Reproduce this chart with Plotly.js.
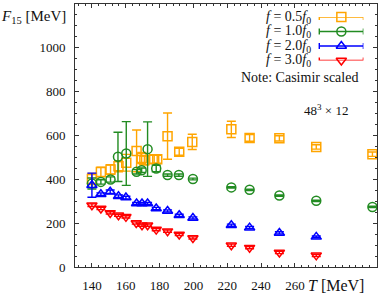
<!DOCTYPE html>
<html>
<head>
<meta charset="utf-8">
<script src="https://cdn.plot.ly/plotly-3.0.1.min.js"></script>
<style>html,body{margin:0;padding:0;background:#fff;}#chart{width:383px;height:306px;}</style>
</head>
<body>
<div id="chart"></div>
<script>
// ---- data ----
const seriesNames = [
  "<i>f</i> = 0.5<i>f</i><sub>0</sub>",
  "<i>f</i> = 1.0<i>f</i><sub>0</sub>",
  "<i>f</i> = 2.0<i>f</i><sub>0</sub>",
  "<i>f</i> = 3.0<i>f</i><sub>0</sub>"
];

const T_half = [140, 145.3, 151, 155.7, 160.3, 166.4, 169.4, 171, 176.8, 178.6, 184.7, 191.6, 199.3, 222.4, 233.2, 250.8, 272.6, 305.8];
const F_half = [400, 432, 443, 458, 474, 528, 496, 485, 490, 490, 595, 524, 569, 626, 587, 585, 546, 513];
const E_half = [25, 22, 22, 25, 38, 95, 25, 20, 18, 18, 105, 16, 35, 37, 15, 12, 10, 10];

const T_one = [140, 145.3, 151, 155.4, 160.3, 166.4, 169.4, 172.9, 178, 184.7, 191.4, 199.7, 222.4, 233.2, 250.8, 272.6, 305.8];
const F_one = [380, 387, 398, 501, 516, 433, 440, 536, 448, 418, 418, 400, 362, 351, 325, 301, 273];
const E_one = [25, 10, 12, 112, 145, 10, 10, 124, 15, 5, 5, 4, 3, 3, 3, 3, 3];

const T_two = [140, 145.3, 150.8, 155.7, 160.1, 166.4, 169.6, 172.9, 178, 184.7, 191.6, 199.7, 222.4, 233.2, 250.8, 272.6];
const F_two = [372, 331, 342, 322, 316, 289, 289, 289, 266, 255, 235, 223, 190, 179, 155, 137];
const E_two = [55, 6, 8, 6, 6, 5, 5, 5, 5, 5, 5, 5, 5, 5, 5, 4];

const T_three = [140, 145.3, 150.8, 155.7, 160.1, 166.2, 169.6, 172.9, 178, 184.7, 191.6, 199.7, 222.4, 233.2, 250.8, 272.6];
const F_three = [281, 266, 246, 235, 228, 200, 190, 190, 170, 163, 148, 132, 99, 88, 66, 53];
const E_three = [6, 5, 5, 5, 5, 5, 5, 5, 5, 5, 5, 5, 5, 5, 5, 5];

const xTickVals = [140, 160, 180, 200, 220, 240, 260];
const xTickText = ["140", "160", "180", "200", "220", "240", "260"];
const yTickVals = [0, 200, 400, 600, 800, 1000];
const yTickText = ["0", "200", "400", "600", "800", "1000"];

// ---- styling ----
const colors = ["#FFA500", "#228B22", "#0000FF", "#FF0000"];
const symbols = ["square-open", "circle-open", "triangle-up-open", "triangle-down-open"];
const Ts = [T_half, T_one, T_two, T_three];
const Fs = [F_half, F_one, F_two, F_three];
const Es = [E_half, E_one, E_two, E_three];
const serif = "Liberation Serif, Times New Roman, serif";

const traces = Ts.map((t, i) => ({
  type: "scatter",
  mode: "markers",
  x: t,
  y: Fs[i],
  name: seriesNames[i],
  showlegend: false,
  marker: {symbol: symbols[i], size: 9, color: colors[i], line: {color: colors[i], width: 1.5}},
  error_y: {type: "data", array: Es[i], visible: true, color: colors[i], thickness: 1.4, width: 4.5}
}));

// key (legend) drawn on a small hidden axis pair: one row per series index
const keyTraces = seriesNames.map((nm, i) => ({
  type: "scatter",
  mode: "markers",
  xaxis: "x2", yaxis: "y2",
  x: [0], y: [i],
  name: nm,
  showlegend: false,
  cliponaxis: false,
  marker: {symbol: symbols[i], size: 9, color: colors[i], line: {color: colors[i], width: 1.5}},
  error_x: {type: "data", array: [1], visible: true, color: colors[i], thickness: 1.4, width: 3}
}));

const keyLabels = seriesNames.map((nm, i) => ({
  xref: "x2", yref: "y2", x: -1.3, y: i, xanchor: "right", yanchor: "middle",
  text: nm, showarrow: false, font: {family: serif, size: 14, color: "#111"}
}));

const layout = {
  width: 383, height: 306,
  margin: {l: 75, r: 6, t: 4, b: 39},
  paper_bgcolor: "#fff", plot_bgcolor: "#fff",
  font: {family: serif, size: 13, color: "#111"},
  showlegend: false,
  xaxis: {
    range: [130, 308.5],
    showgrid: false, zeroline: false,
    showline: true, linecolor: "#333", linewidth: 1, mirror: "ticks",
    ticks: "inside", ticklen: 4, tickcolor: "#333",
    tickmode: "array", tickvals: xTickVals, ticktext: xTickText,
    ticklabelstandoff: 6,
    tickfont: {family: serif, size: 13, color: "#111"},
    minor: {tickmode: "linear", tick0: 140, dtick: 4, ticks: "inside", ticklen: 2, tickcolor: "#333"}
  },
  yaxis: {
    range: [0, 1196],
    showgrid: false, zeroline: false,
    showline: true, linecolor: "#333", linewidth: 1, mirror: "ticks",
    ticks: "inside", ticklen: 4, tickcolor: "#333",
    tickmode: "array", tickvals: yTickVals, ticktext: yTickText,
    ticklabelstandoff: 6,
    tickfont: {family: serif, size: 13, color: "#111"},
    minor: {tickmode: "linear", tick0: 0, dtick: 50, ticks: "inside", ticklen: 2, tickcolor: "#333"}
  },
  xaxis2: {domain: [0.692, 0.955], range: [-2.6, 1], anchor: "y2", visible: false, fixedrange: true},
  yaxis2: {domain: [0.785, 0.9505], range: [3, 0], anchor: "x2", visible: false, fixedrange: true},
  annotations: [
    {xref: "paper", yref: "paper", x: -0.023, y: 0.95, xanchor: "right", yanchor: "middle",
     text: "<i>F</i><sub>15</sub> [MeV]", showarrow: false, font: {family: serif, size: 15, color: "#111"}},
    {xref: "paper", yref: "paper", x: 0.865, y: -0.07, xanchor: "center", yanchor: "middle",
     text: "<i>T</i> [MeV]", showarrow: false, font: {family: serif, size: 16, color: "#111"}},
    {xref: "paper", yref: "paper", x: 0.744, y: 0.722, xanchor: "center", yanchor: "middle",
     text: "Note: Casimir scaled", showarrow: false, font: {family: serif, size: 14, color: "#111"}},
    {xref: "paper", yref: "paper", x: 0.832, y: 0.597, xanchor: "center", yanchor: "middle",
     text: "48<sup>3</sup> × 12", showarrow: false, font: {family: serif, size: 13, color: "#111"}}
  ].concat(keyLabels)
};

Plotly.newPlot("chart", traces.concat(keyTraces), layout, {displayModeBar: false, staticPlot: true});
</script>
</body>
</html>
